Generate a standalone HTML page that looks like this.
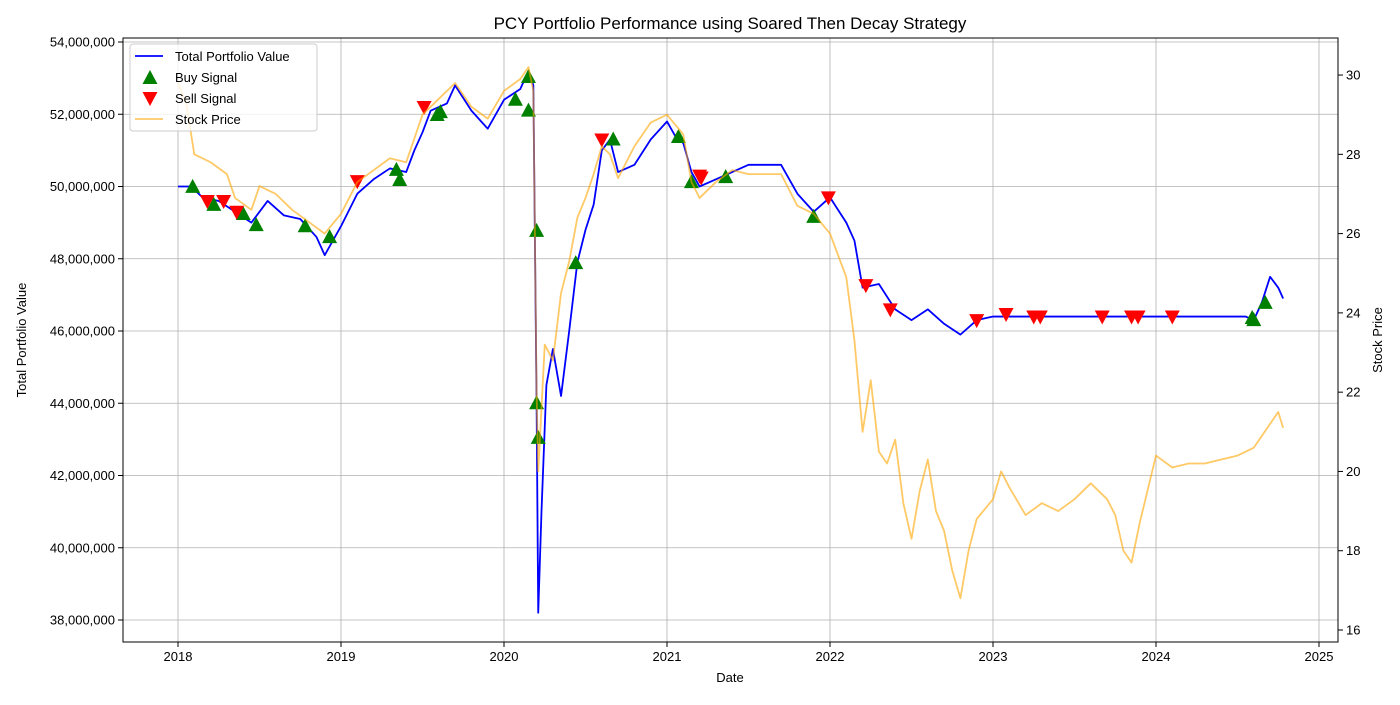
<!DOCTYPE html>
<html><head><meta charset="utf-8"><style>
body{margin:0;background:#fff;width:1400px;height:700px;overflow:hidden}
svg{font-family:"Liberation Sans","DejaVu Sans",sans-serif}
</style></head><body>
<svg id="chart" width="1400" height="700" xmlns="http://www.w3.org/2000/svg"></svg>
<script>
const pfDates=[2018.0,2018.08,2018.15,2018.25,2018.35,2018.45,2018.55,2018.65,2018.75,2018.85,2018.9,2019.0,2019.1,2019.2,2019.3,2019.4,2019.45,2019.5,2019.55,2019.65,2019.7,2019.8,2019.9,2020.0,2020.1,2020.15,2020.18,2020.2,2020.21,2020.23,2020.26,2020.3,2020.35,2020.4,2020.45,2020.5,2020.55,2020.6,2020.65,2020.7,2020.8,2020.9,2021.0,2021.05,2021.1,2021.15,2021.2,2021.3,2021.4,2021.5,2021.6,2021.7,2021.8,2021.9,2022.0,2022.1,2022.15,2022.2,2022.3,2022.4,2022.5,2022.6,2022.7,2022.8,2022.9,2023.0,2023.5,2024.0,2024.55,2024.6,2024.65,2024.7,2024.75,2024.78];
const pfValues=[50.0,50.0,49.7,49.6,49.3,49.0,49.6,49.2,49.1,48.6,48.1,48.9,49.8,50.2,50.5,50.4,51.0,51.5,52.1,52.3,52.8,52.1,51.6,52.4,52.7,53.2,52.8,44.0,38.2,41.0,44.5,45.5,44.2,46.0,47.9,48.8,49.5,51.0,51.3,50.4,50.6,51.3,51.8,51.4,51.2,50.4,50.0,50.2,50.4,50.6,50.6,50.6,49.8,49.3,49.7,49.0,48.5,47.2,47.3,46.6,46.3,46.6,46.2,45.9,46.3,46.4,46.4,46.4,46.4,46.3,46.8,47.5,47.2,46.9];
const spDates=[2018.0,2018.05,2018.1,2018.2,2018.3,2018.35,2018.45,2018.5,2018.6,2018.7,2018.8,2018.9,2019.0,2019.1,2019.2,2019.3,2019.4,2019.5,2019.6,2019.7,2019.8,2019.9,2020.0,2020.1,2020.15,2020.18,2020.2,2020.21,2020.25,2020.3,2020.35,2020.4,2020.45,2020.5,2020.55,2020.6,2020.65,2020.7,2020.8,2020.9,2021.0,2021.1,2021.15,2021.2,2021.3,2021.4,2021.5,2021.6,2021.7,2021.8,2021.9,2022.0,2022.1,2022.15,2022.2,2022.25,2022.3,2022.35,2022.4,2022.45,2022.5,2022.55,2022.6,2022.65,2022.7,2022.75,2022.8,2022.85,2022.9,2023.0,2023.05,2023.1,2023.2,2023.3,2023.4,2023.5,2023.6,2023.7,2023.75,2023.8,2023.85,2023.9,2024.0,2024.1,2024.2,2024.3,2024.4,2024.5,2024.6,2024.7,2024.75,2024.78];
const spValues=[29.8,29.3,28.0,27.8,27.5,26.9,26.6,27.2,27.0,26.6,26.3,26.0,26.5,27.3,27.6,27.9,27.8,29.0,29.4,29.8,29.2,28.9,29.6,29.9,30.2,29.6,22.0,20.0,23.2,22.8,24.5,25.3,26.4,26.9,27.5,28.2,28.0,27.4,28.2,28.8,29.0,28.5,27.3,26.9,27.3,27.6,27.5,27.5,27.5,26.7,26.5,26.0,24.9,23.3,21.0,22.3,20.5,20.2,20.8,19.2,18.3,19.5,20.3,19.0,18.5,17.5,16.8,18.0,18.8,19.3,20.0,19.6,18.9,19.2,19.0,19.3,19.7,19.3,18.9,18.0,17.7,18.7,20.4,20.1,20.2,20.2,20.3,20.4,20.6,21.2,21.5,21.1];
const buyDates=[2018.09,2018.22,2018.4,2018.48,2018.78,2018.93,2019.34,2019.36,2019.59,2019.61,2020.07,2020.15,2020.15,2020.2,2020.2,2020.21,2020.44,2020.67,2021.07,2021.15,2021.36,2021.9,2024.59,2024.6,2024.67];
const buyValues=[49.99,49.49,49.24,48.93,48.9,48.6,50.46,50.18,51.98,52.06,52.4,52.1,53.03,48.77,44.0,43.04,47.88,51.3,51.37,50.12,50.26,49.16,46.36,46.3,46.78];
const sellDates=[2018.18,2018.28,2018.36,2019.1,2019.51,2020.6,2021.2,2021.21,2021.99,2022.22,2022.37,2022.9,2023.08,2023.25,2023.29,2023.67,2023.85,2023.89,2024.1];
const sellValues=[49.6,49.6,49.3,50.15,52.2,51.3,50.3,50.25,49.7,47.27,46.6,46.3,46.47,46.4,46.4,46.4,46.4,46.4,46.4];
const leftTicks=[38,40,42,44,46,48,50,52,54];
const rightTicks=[16,18,20,22,24,26,28,30];
const xTicks=[2018,2019,2020,2021,2022,2023,2024,2025];

const L=123,R=1338,T=38,B=642;
const X=d=>178+(d-2018)*163;
const YL=v=>620-(v-38)*36.125;
const YR=v=>630-(v-16)*39.64;
const svg=document.getElementById('chart');
const NS='http://www.w3.org/2000/svg';
function mk(tag,attrs,parent){const e=document.createElementNS(NS,tag);for(const k in attrs)e.setAttribute(k,attrs[k]);(parent||svg).appendChild(e);return e;}
const fmt=v=>(v*1000000).toLocaleString('en-US');

// grid
const grid=mk('g',{});


xTicks.forEach(t=>mk('line',{x1:X(t),x2:X(t),y1:T,y2:B,stroke:'#b0b0b0','stroke-width':0.8},grid));
leftTicks.forEach(t=>mk('line',{x1:L,x2:R,y1:YL(t),y2:YL(t),stroke:'#b0b0b0','stroke-width':0.8},grid));

// x ticks
xTicks.forEach(t=>{
  mk('line',{x1:X(t),x2:X(t),y1:B,y2:B+5,stroke:'#000'});
  const tx=mk('text',{x:X(t),y:B+19,'text-anchor':'middle','font-size':13});
  tx.textContent=t;
  
  
});
leftTicks.forEach(t=>{
  mk('line',{x1:L-5,x2:L,y1:YL(t),y2:YL(t),stroke:'#000'});
  const tx=mk('text',{x:L-8,y:YL(t)+4.5,'text-anchor':'end','font-size':13});
  tx.textContent=fmt(t);
  
  
});
rightTicks.forEach(t=>{
  mk('line',{x1:R,x2:R+5,y1:YR(t),y2:YR(t),stroke:'#000'});
  const tx=mk('text',{x:R+8,y:YR(t)+4.5,'text-anchor':'start','font-size':13});
  tx.textContent=t;
  
  
});

// portfolio line
const pf=mk('polyline',{points:pfDates.map((d,i)=>X(d)+','+YL(pfValues[i])).join(' '),fill:'none',stroke:'#0000ff','stroke-width':1.8,'stroke-linejoin':'round'});



// signals
buyDates.forEach((d,i)=>{
  const x=X(d),y=YL(buyValues[i]);
  const p=mk('polygon',{points:`${x},${y-8} ${x-7.5},${y+6} ${x+7.5},${y+6}`,fill:'#008000'});
  
  
});
sellDates.forEach((d,i)=>{
  const x=X(d),y=YL(sellValues[i]);
  const p=mk('polygon',{points:`${x},${y+8} ${x-7.5},${y-6} ${x+7.5},${y-6}`,fill:'#ff0000'});
  
  
});

// stock line
const sp=mk('polyline',{points:spDates.map((d,i)=>X(d)+','+YR(spValues[i])).join(' '),fill:'none',stroke:'#ffa500','stroke-opacity':0.6,'stroke-width':1.8,'stroke-linejoin':'round'});



// frame
mk('rect',{x:L,y:T,width:R-L,height:B-T,fill:'none',stroke:'#000','stroke-width':1});

// titles
let t=mk('text',{x:730,y:29,'text-anchor':'middle','font-size':17});t.textContent='PCY Portfolio Performance using Soared Then Decay Strategy';

t=mk('text',{x:730,y:682,'text-anchor':'middle','font-size':13});t.textContent='Date';

t=mk('text',{x:0,y:0,'text-anchor':'middle','font-size':13,transform:'translate(26,340) rotate(-90)'});t.textContent='Total Portfolio Value';

t=mk('text',{x:0,y:0,'text-anchor':'middle','font-size':13,transform:'translate(1382,340) rotate(-90)'});t.textContent='Stock Price';


// legend
const lg=mk('g',{});


mk('rect',{x:130,y:44,width:187,height:87,rx:3,fill:'#fff','fill-opacity':0.8,stroke:'#ccc'},lg);
mk('line',{x1:135,x2:163,y1:56,y2:56,stroke:'#0000ff','stroke-width':1.8},lg);
mk('polygon',{points:'150,70 142.5,84 157.5,84',fill:'#008000'},lg);
mk('polygon',{points:'150,106 142.5,92 157.5,92',fill:'#ff0000'},lg);
mk('line',{x1:135,x2:163,y1:119,y2:119,stroke:'#ffa500','stroke-opacity':0.6,'stroke-width':1.8},lg);
['Total Portfolio Value','Buy Signal','Sell Signal','Stock Price'].forEach((s,i)=>{
  const e=mk('text',{x:175,y:61+i*21,'font-size':13},lg);e.textContent=s;
  
  
});
</script>
</body></html>
